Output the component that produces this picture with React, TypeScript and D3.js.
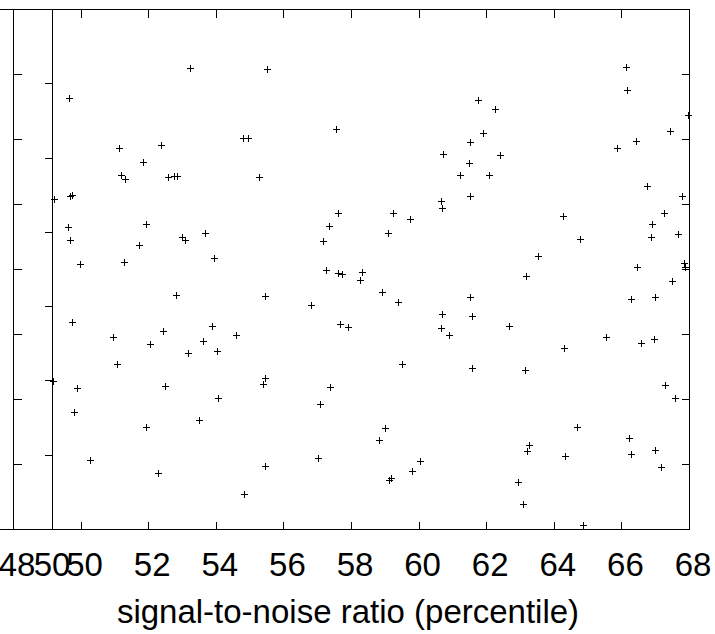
import React from "react";
import * as d3 from "d3";

const xTicks = [48, 50, 52, 54, 56, 58, 60, 62, 64, 66, 68];
const yTicks = [1, 2, 3, 4, 5, 6, 7];
const y2Ticks = [1, 2, 3, 4, 5, 6];
const xLabel = "signal-to-noise ratio (percentile)";

const snr = [
  53.24, 55.51, 66.14, 66.17, 49.66, 61.76, 62.26, 67.97, 57.56, 67.44,
  54.80, 54.95, 66.43, 61.52, 52.38, 51.14, 65.87, 61.91, 62.41, 60.72,
  51.85, 61.49, 51.20, 51.31, 52.59, 52.76, 52.85, 55.28, 61.22, 62.08,
  66.76, 49.69, 49.75, 49.21, 61.52, 60.66, 67.79, 60.69, 57.62, 59.24,
  67.26, 64.27, 59.75, 51.93, 57.35, 49.63, 66.91, 53.68, 59.09, 67.67,
  53.00, 53.09, 66.88, 64.78, 49.69, 57.17, 51.73, 63.53, 53.95, 51.28,
  49.98, 67.85, 67.88, 66.46, 57.26, 57.62, 57.73, 58.33, 58.27, 63.18,
  67.50, 58.92, 52.82, 55.46, 61.52, 66.99, 59.39, 56.82, 60.69, 61.58,
  49.75, 57.67, 57.91, 53.89, 62.67, 60.66, 60.90, 54.60, 50.96, 65.54,
  53.62, 66.96, 66.58, 52.05, 64.30, 53.18, 54.04, 51.08, 59.51, 61.58,
  63.15, 55.46, 55.40, 49.18, 52.50, 57.38, 49.89, 67.29, 54.07, 67.59,
  57.08, 49.80, 53.50, 51.93, 59.01, 64.69, 58.83, 66.22, 63.27, 63.21,
  66.99, 66.28, 64.33, 57.02, 50.28, 60.04, 67.17, 55.46, 52.29, 59.80,
  59.12, 59.18, 62.94, 54.83, 63.09, 64.86, 52.44, 66.28,
];

const score = [
  7.09, 7.08, 7.11, 6.75, 6.63, 6.60, 6.46, 6.37, 6.15, 6.12,
  6.02, 6.02, 5.97, 5.95, 5.91, 5.86, 5.86, 6.09, 5.75, 5.77,
  5.65, 5.63, 5.45, 5.38, 5.42, 5.43, 5.43, 5.42, 5.45, 5.45,
  5.28, 5.12, 5.14, 5.08, 5.12, 5.05, 5.12, 4.94, 4.86, 4.86,
  4.86, 4.82, 4.77, 4.69, 4.66, 4.65, 4.69, 4.55, 4.55, 4.54,
  4.49, 4.45, 4.49, 4.46, 4.45, 4.43, 4.37, 4.20, 4.17, 4.11,
  4.08, 4.09, 4.03, 4.03, 3.98, 3.94, 3.92, 3.95, 3.83, 3.89,
  3.82, 3.65, 3.60, 3.58, 3.57, 3.57, 3.49, 3.45, 3.31, 3.28,
  3.18, 3.15, 3.11, 3.12, 3.12, 3.09, 2.98, 2.98, 2.95, 2.95,
  2.89, 2.92, 2.86, 2.85, 2.78, 2.71, 2.74, 2.54, 2.54, 2.48,
  2.45, 2.32, 2.23, 2.28, 2.20, 2.18, 2.17, 2.22, 2.02, 2.02,
  1.92, 1.80, 1.68, 1.57, 1.55, 1.57, 1.37, 1.40, 1.29, 1.20,
  1.22, 1.15, 1.12, 1.09, 1.06, 1.05, 0.95, 0.97, 0.86, 0.89,
  0.75, 0.78, 0.72, 0.54, 0.38, 0.06, 3.05, 3.54,
];

const W = 715;
const H = 634;
const L = 13;
const R = 689;
const T = 9;
const B = 529;
const INSET = 52;
const FONT = "'Liberation Sans', Arial, Helvetica, sans-serif";

export default function App() {
  const x = d3.scaleLinear().domain([48, 68]).range([L, R]);
  const y = d3.scaleLinear().domain([0, 8]).range([B, T]);
  const y2 = d3.scaleLinear().domain([0, 7]).range([B, T]);
  const px = (v: number) => Math.round(v) + 0.5;
  const tl = 8;
  const arm = 3.5;

  const pts = snr.map((v, i) => [x(v), y(score[i])]);
  const plusPath = pts
    .map(([a, b]) => {
      const cx = px(a);
      const cy = px(b);
      return `M${cx - arm},${cy}H${cx + arm}M${cx},${cy - arm}V${cy + arm}`;
    })
    .join("");

  return (
    <svg
      width={W}
      height={H}
      style={{ position: "absolute", left: 0, top: 0, background: "#fff" }}
      fontFamily={FONT}
    >
      <rect x={0} y={0} width={W} height={H} fill="#fff" />
      <g stroke="#000" strokeWidth={1} fill="none" shapeRendering="crispEdges">
        {/* frame */}
        <line x1={0} x2={R} y1={px(T)} y2={px(T)} />
        <line x1={0} x2={R + 1} y1={px(B)} y2={px(B)} />
        <line x1={px(L)} x2={px(L)} y1={T} y2={B + 1} />
        <line x1={px(INSET)} x2={px(INSET)} y1={T} y2={B + 1} />
        <line x1={px(R)} x2={px(R)} y1={T} y2={B + 1} />
        {/* x ticks bottom & top */}
        {xTicks.map((t) => (
          <g key={"xt" + t}>
            <line x1={px(x(t))} x2={px(x(t))} y1={px(B)} y2={px(B) - tl} />
            <line x1={px(x(t))} x2={px(x(t))} y1={px(T)} y2={px(T) + tl} />
          </g>
        ))}
        {/* y ticks left & right */}
        {yTicks.map((t) => (
          <g key={"yt" + t}>
            <line x1={px(L)} x2={px(L) + tl} y1={px(y(t))} y2={px(y(t))} />
            <line x1={px(R)} x2={px(R) - tl} y1={px(y(t))} y2={px(y(t))} />
          </g>
        ))}
        {/* inset panel right-side ticks */}
        {y2Ticks.map((t) => (
          <line
            key={"y2" + t}
            x1={px(INSET)}
            x2={px(INSET) - tl}
            y1={px(y2(t))}
            y2={px(y2(t))}
          />
        ))}
      </g>
      <path d={plusPath} stroke="#000" strokeWidth={1} fill="none" />
      <g fontSize={33} fill="#000" textAnchor="middle">
        {xTicks.map((t) => (
          <text key={"xl" + t} x={x(t) + 4} y={576}>
            {t}
          </text>
        ))}
        <text x={INSET} y={576}>
          50
        </text>
        <text x={(L + R) / 2 - 3} y={623}>
          {xLabel}
        </text>
      </g>
    </svg>
  );
}
